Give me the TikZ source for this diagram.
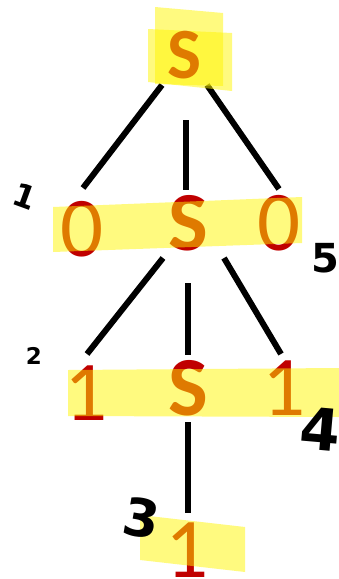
\documentclass[tikz,border=0pt]{standalone}
\usepackage{fontspec}
\setmainfont{Carlito}
\newfontfamily\handfont{DejaVu Sans}
\definecolor{txtred}{RGB}{192,0,0}
\definecolor{hl}{RGB}{255,245,0}
\begin{document}
\begin{tikzpicture}[x=1pt,y=-1pt,
  sym/.style={inner sep=0pt, anchor=base, text=txtred, font=\fontsize{85}{85}\selectfont},
  ssym/.style={sym, font=\bfseries\fontsize{84}{84}\selectfont},
  topsym/.style={sym, font=\bfseries\fontsize{72}{72}\selectfont},
  edge/.style={line width=6pt, draw=black},
  hlt/.style={fill=hl, fill opacity=0.5, draw=none},
  hand/.style={inner sep=0pt, text=black, font=\handfont\bfseries\fontsize{#1}{#1}\selectfont}]
\useasboundingbox (0,0) rectangle (339,579);
% connector end points
\coordinate (a1) at (162,85);  \coordinate (b1) at (83,188);
\coordinate (a2) at (186,120); \coordinate (b2) at (186,190);
\coordinate (a3) at (207,85);  \coordinate (b3) at (279,189);
\coordinate (a4) at (163,258); \coordinate (b4) at (87,354);
\coordinate (a5) at (188,283); \coordinate (b5) at (188,355);
\coordinate (a6) at (224,258); \coordinate (b6) at (281,354);
\coordinate (a7) at (188,422); \coordinate (b7) at (188,513);
\draw[edge] (a1) -- (b1);
\draw[edge] (a2) -- (b2);
\draw[edge] (a3) -- (b3);
\draw[edge] (a4) -- (b4);
\draw[edge] (a5) -- (b5);
\draw[edge] (a6) -- (b6);
\draw[edge] (a7) -- (b7);
% top highlight (first stroke) below the top symbol
\fill[hlt] (155,7) -- (223,13) -- (223,86) -- (155,84) -- cycle;
% symbols
\node[topsym] (s0) at (185,78) {S};
\node[sym] (z1) at (82,256) {0};
\node[ssym] (s1) at (188,250) {S};
\node[sym] (z2) at (279,250) {0};
\node[sym] (o1) at (86,420) {1};
\node[ssym] (s2) at (188,415) {S};
\node[sym] (o2) at (284,415) {1};
\node[sym] (o3) at (187,577) {1};
% highlights
\fill[hlt] (148,29) -- (232,33) -- (232,91) -- (148,82) -- cycle;
\fill[hlt] (53,207) -- (302,197) -- (302,243) -- (53,252) -- cycle;
\fill[hlt] (68,370) -- (339,368) -- (339,417) -- (68,416) -- cycle;
\fill[hlt] (140,515) -- (245,527) -- (245,572) -- (140,560) -- cycle;
% handwritten numbers
\node[hand=32, rotate=-20] (n1) at (25,196) {1};
\node[hand=23] (n2) at (34,356) {2};
\node[hand=52, rotate=-10] (n3) at (142,518) {3};
\node[hand=58, rotate=-5] (n4) at (320,429) {4};
\node[hand=40] (n5) at (325,258) {5};
\end{tikzpicture}
\end{document}
